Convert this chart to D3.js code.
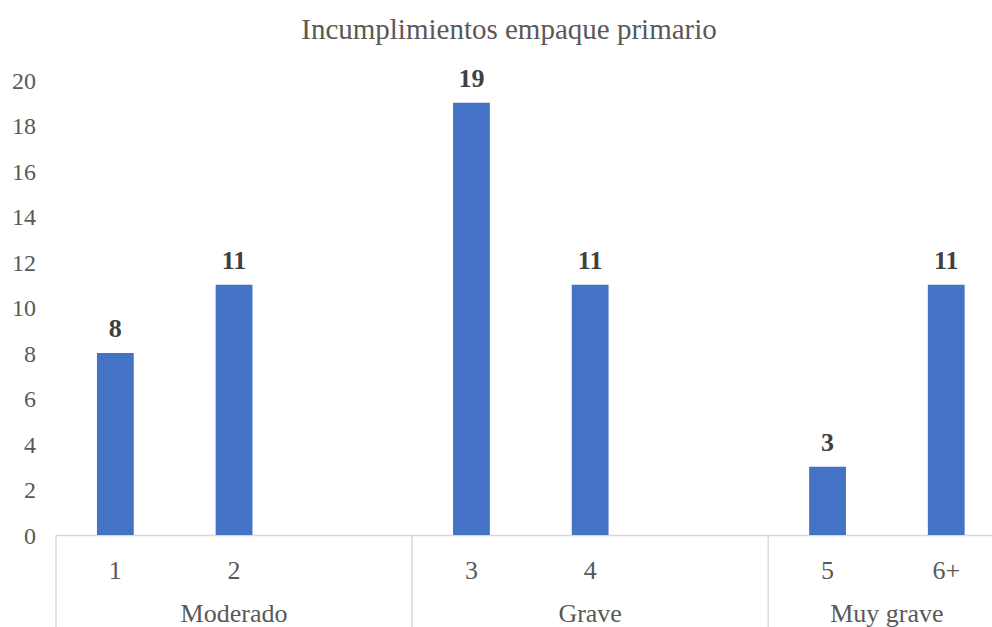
<!DOCTYPE html>
<html><head><meta charset="utf-8">
<script src="https://cdn.jsdelivr.net/npm/d3@7"></script>
<style>body{margin:0;background:#fff;}svg{display:block;}</style>
</head><body>
<svg id="c" width="992" height="627"></svg>
<script>
const title = "Incumplimientos empaque primario";
const categories = ["1","2","","3","4","","5","6+"];
const groups = ["Moderado","Moderado","Moderado","Grave","Grave","Grave","Muy grave","Muy grave"];
const values = [8,11,null,19,11,null,3,11];
const yTicks = [0,2,4,6,8,10,12,14,16,18,20];

const svg = d3.select("#c");
const W = 992, H = 627;
const font = "'Liberation Serif','Times New Roman',serif";
const grey = "#595959";
const idx = categories.map((d,i)=>i);
const x = d3.scaleBand().domain(idx).range([56, 1005.6]).paddingInner(0.69).paddingOuter(0.345);
const y = d3.scaleLinear().domain([0,20]).range([535,80]);

svg.append("text").attr("x",509).attr("y",39).attr("text-anchor","middle")
  .attr("font-family",font).attr("font-size",29).attr("fill",grey).text(title);

// y axis labels
const yAxis = d3.axisLeft(y).tickValues(yTicks).tickSize(0).tickPadding(0);
const gy = svg.append("g").attr("transform","translate(36,0)").call(yAxis);
gy.select(".domain").remove();
gy.selectAll("text").attr("font-family",font).attr("font-size",24).attr("fill",grey).attr("dy","0.35em");

// x axis line
svg.append("line").attr("x1",56).attr("x2",W).attr("y1",y(0)+0.5).attr("y2",y(0)+0.5)
  .attr("stroke","#d9d9d9").attr("stroke-width",1.5);

// group boundaries
const step = x.step();
const groupNames = Array.from(new Set(groups));
const bounds = [];
groupNames.forEach(g=>{
  const ii = idx.filter(i=>groups[i]===g);
  const x0 = x(ii[0]) - x.paddingInner()*step/2;
  const x1 = x(ii[ii.length-1]) + x.bandwidth() + x.paddingInner()*step/2;
  bounds.push({g,x0,x1});
});
bounds.forEach(b=>{
  svg.append("line").attr("x1",b.x0).attr("x2",b.x0).attr("y1",y(0)).attr("y2",H)
    .attr("stroke","#d9d9d9").attr("stroke-width",1.5);
  svg.append("text").attr("x",(b.x0+b.x1)/2).attr("y",613).attr("dy","0.35em")
    .attr("text-anchor","middle").attr("font-family",font).attr("font-size",26).attr("fill",grey).text(b.g);
});

// category tick labels
svg.append("g").selectAll("text").data(idx).join("text")
  .attr("x",i=>x(i)+x.bandwidth()/2).attr("y",570).attr("dy","0.35em")
  .attr("text-anchor","middle").attr("font-family",font).attr("font-size",26).attr("fill",grey)
  .text(i=>categories[i]);

// bars
const bi = idx.filter(i=>values[i]!=null);
svg.append("g").selectAll("rect").data(bi).join("rect")
  .attr("x",i=>x(i)).attr("width",x.bandwidth())
  .attr("y",i=>y(values[i])).attr("height",i=>y(0)-y(values[i]))
  .attr("fill","#4472C4");

// data labels
svg.append("g").selectAll("text").data(bi).join("text")
  .attr("x",i=>x(i)+x.bandwidth()/2).attr("y",i=>y(values[i])-16)
  .attr("text-anchor","middle").attr("font-family",font).attr("font-size",26)
  .attr("font-weight","bold").attr("fill","#404040").text(i=>values[i]);
</script>
</body></html>
